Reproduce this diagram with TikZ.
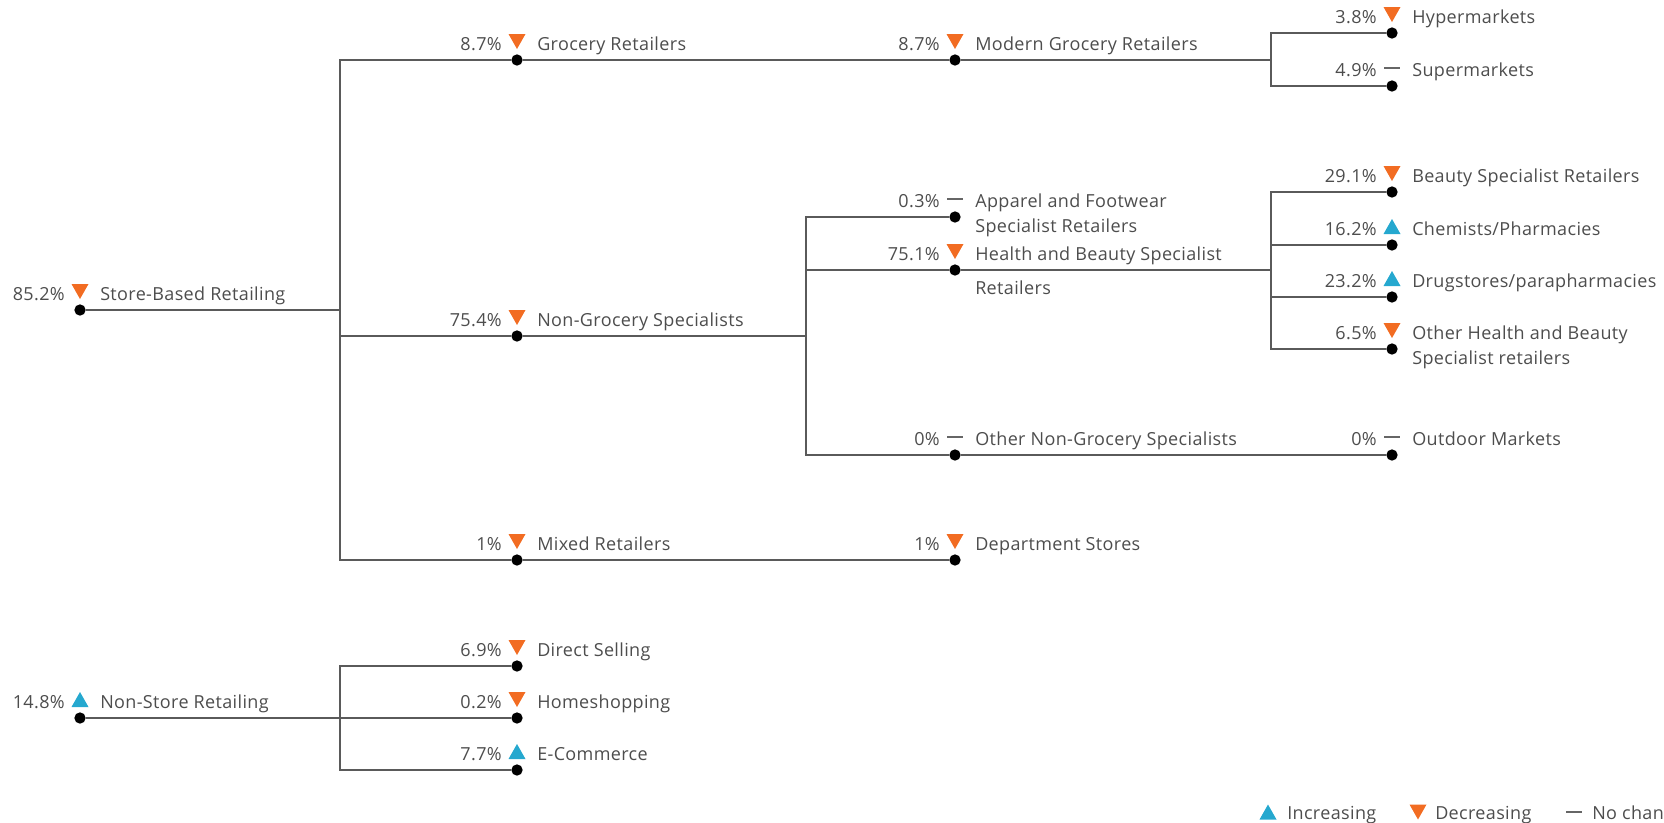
\documentclass[tikz,border=0pt]{standalone}
\usepackage{fontspec}
\setmainfont[LetterSpace=2]{Open Sans}
\usetikzlibrary{calc}
\pgfdeclarelayer{bg}
\pgfsetlayers{bg,main}
\definecolor{txt}{HTML}{4D4D4D}
\definecolor{lin}{HTML}{5A5A5A}
\definecolor{dec}{HTML}{F26C22}
\definecolor{inc}{HTML}{25A8CF}
\definecolor{nch}{HTML}{666666}
\tikzset{
  dot/.style={circle, fill=black, inner sep=0pt, minimum size=8.5pt},
  conn/.style={draw=lin, line width=1.2pt},
  lab/.style={text=txt, font=\fontsize{13.5}{15}\selectfont, inner sep=0pt},
  decsym/.style={fill=dec},
  incsym/.style={fill=inc},
  ncsym/.style={draw=nch, line width=1.3pt},
}
\newcommand\symdn[1]{\fill[decsym] ($(#1)+(-8.5,-26)$) -- ++(17,0) -- ++(-8.5,15) -- cycle;}
\newcommand\symup[1]{\fill[incsym] ($(#1)+(-8.5,-11)$) -- ++(17,0) -- ++(-8.5,-15) -- cycle;}
\newcommand\symnc[1]{\draw[ncsym] ($(#1)+(-8,-18)$) -- ++(16,0);}
\newcommand\mkitem[5]{%
  \node[dot] (#1) at (#2) {};
  \node[lab, anchor=mid east] (#1p) at ($(#1)+(-15,-13)$) {#3};
  \node[lab, anchor=mid west] (#1t) at ($(#1)+(20,-13)$) {#4};
  #5{#1}}
\begin{document}
\begin{tikzpicture}[x=0.75pt, y=-0.75pt]
\useasboundingbox (0,0) rectangle (1664,822);

% items
\mkitem{sb}{80,310}{85.2\%}{Store-Based Retailing}{\symdn}
\mkitem{gr}{517,60}{8.7\%}{Grocery Retailers}{\symdn}
\mkitem{mg}{955,60}{8.7\%}{Modern Grocery Retailers}{\symdn}
\mkitem{hy}{1392,33}{3.8\%}{Hypermarkets}{\symdn}
\mkitem{su}{1392,86}{4.9\%}{Supermarkets}{\symnc}
\mkitem{ng}{517,336}{75.4\%}{Non-Grocery Specialists}{\symdn}
\mkitem{ap}{955,217}{0.3\%}{Apparel and Footwear}{\symnc}
\node[lab, anchor=mid west] (ap2) at ($(ap)+(20,12)$) {Specialist Retailers};
\mkitem{hb}{955,270}{75.1\%}{Health and Beauty Specialist}{\symdn}
\node[lab, anchor=mid west] (hb2) at ($(hb)+(20,21)$) {Retailers};
\mkitem{bs}{1392,192}{29.1\%}{Beauty Specialist Retailers}{\symdn}
\mkitem{cp}{1392,245}{16.2\%}{Chemists/Pharmacies}{\symup}
\mkitem{dg}{1392,297}{23.2\%}{Drugstores/parapharmacies}{\symup}
\mkitem{oh}{1392,349}{6.5\%}{Other Health and Beauty}{\symdn}
\node[lab, anchor=mid west] (oh2) at ($(oh)+(20,12)$) {Specialist retailers};
\mkitem{on}{955,455}{0\%}{Other Non-Grocery Specialists}{\symnc}
\mkitem{od}{1392,455}{0\%}{Outdoor Markets}{\symnc}
\mkitem{mx}{517,560}{1\%}{Mixed Retailers}{\symdn}
\mkitem{ds}{955,560}{1\%}{Department Stores}{\symdn}
\mkitem{ns}{80,718}{14.8\%}{Non-Store Retailing}{\symup}
\mkitem{dsl}{517,666}{6.9\%}{Direct Selling}{\symdn}
\mkitem{hs}{517,718}{0.2\%}{Homeshopping}{\symdn}
\mkitem{ec}{517,770}{7.7\%}{E-Commerce}{\symup}

% branch points
\coordinate (b1) at (340,310);
\coordinate (b2) at (806,336);
\coordinate (b3) at (1271,60);
\coordinate (b4) at (1271,270);
\coordinate (b5) at (340,718);

\begin{pgfonlayer}{bg}
\draw[conn] (sb) -- (b1);
\draw[conn] (b1) |- (gr);
\draw[conn] (gr) -- (mg);
\draw[conn] (mg) -- (b3);
\draw[conn] (b3) |- (hy);
\draw[conn] (b3) |- (su);
\draw[conn] (b1) |- (ng);
\draw[conn] (ng) -- (b2);
\draw[conn] (b2) |- (ap);
\draw[conn] (b2) |- (hb);
\draw[conn] (hb) -- (b4);
\draw[conn] (b4) |- (bs);
\draw[conn] (b4) |- (cp);
\draw[conn] (b4) |- (dg);
\draw[conn] (b4) |- (oh);
\draw[conn] (b2) |- (on);
\draw[conn] (on) -- (od);
\draw[conn] (b1) |- (mx);
\draw[conn] (mx) -- (ds);
\draw[conn] (ns) -- (b5);
\draw[conn] (b5) -- (hs);
\draw[conn] (b5) |- (dsl);
\draw[conn] (b5) |- (ec);
\end{pgfonlayer}

% legend
\fill[incsym] (1259.5,819.5) -- (1276.5,819.5) -- (1268,804.5) -- cycle;
\node[lab, anchor=mid west] (lgi) at (1287,816) {Increasing};
\fill[decsym] (1409.5,804.5) -- (1426.5,804.5) -- (1418,819.5) -- cycle;
\node[lab, anchor=mid west] (lgd) at (1435,816) {Decreasing};
\draw[ncsym] (1566,812) -- (1582,812);
\node[lab, anchor=mid west] (lgn) at (1592,816) {No chan};
\end{tikzpicture}
\end{document}
